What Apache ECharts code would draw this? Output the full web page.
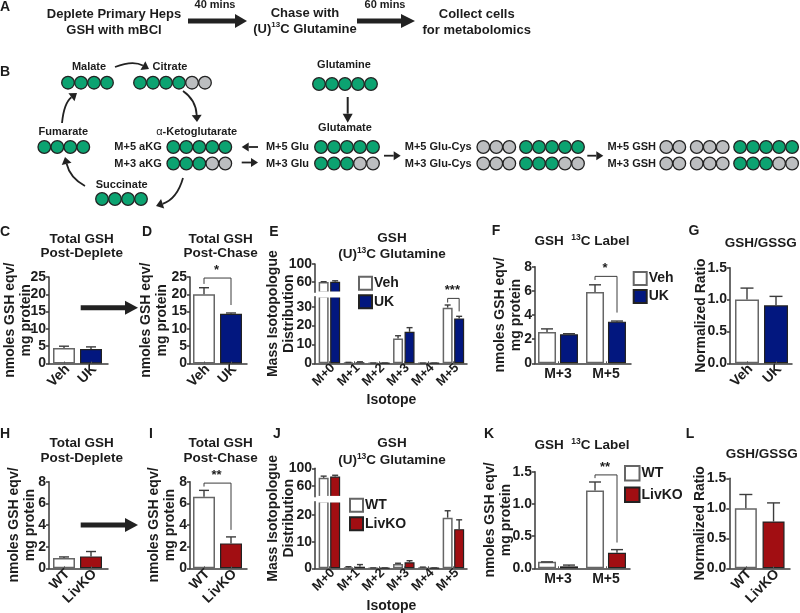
<!DOCTYPE html>
<html><head><meta charset="utf-8">
<script src="https://cdn.jsdelivr.net/npm/echarts@6/dist/echarts.min.js"></script>
<style>html,body{margin:0;padding:0;background:#fff}#c{width:800px;height:613px}</style>
</head><body><div id="c"></div>
<script>
// ---------- data ----------
const vehUk = ['Veh','UK'];
const wtKo = ['WT','LivKO'];
const isotopes = ['M+0','M+1','M+2','M+3','M+4','M+5'];
const labelled = ['M+3','M+5'];

const cValues = [4.5,4.2];    const cTops = [5.0,4.8];
const dValues = [20,14.4];    const dTops = [21.9,14.6];
const eVeh = [59.5,0.4,0.1,13.2,0.1,29.5]; const eVehTops = [60,0.5,0.15,14.6,0.1,30.9];
const eUk  = [60,0.6,0.1,16.7,0.1,23.8];   const eUkTops  = [62,0.8,0.15,18.9,0.1,24.9];
const fVeh = [2.6,5.9];  const fVehTops = [2.85,6.5];
const fUk  = [2.4,3.45]; const fUkTops  = [2.45,3.5];
const gValues = [1.0,0.91];   const gTops = [1.18,1.05];
const hValues = [0.95,1.1];   const hTops = [1.05,1.55];
const iValues = [6.6,2.3];    const iTops = [7.2,2.9];
const jWt = [78,0.3,0.1,1.6,0.3,19];   const jWtTops = [82,0.6,0.15,1.9,0.45,21.6];
const jKo = [81,0.6,0.1,2.25,0.1,14.7]; const jKoTops = [84,1.4,0.15,2.85,0.15,18.2];
const kWt = [0.1,1.21];  const kWtTops = [0.1,1.34];
const kKo = [0.03,0.24]; const kKoTops = [0.05,0.29];
const lValues = [1.0,0.78];   const lTops = [1.23,1.09];

const gshAxis = 'nmoles GSH eqv/\nmg protein';
const misAxis = 'Mass Isotopologue\nDistribution';
const ratioAxis = 'Normalized Ratio';

// carbon patterns: G labelled, g unlabelled, space = gap
const malatePattern='GGGG', citratePattern='GGGGgg', fumaratePattern='GGGG', succinatePattern='GGGG';
const m5Akg='GGGGG', m3Akg='GGGgg', glutaminePattern='GGGGG', m5Glu='GGGGG', m3Glu='GGGgg';
const m5GluCys='ggg GGGGG', m3GluCys='ggg GGGgg', m5Gsh='gg ggg GGGGG', m3Gsh='gg ggg GGGgg';

// ---------- styling ----------
const FONT='"Liberation Sans",Arial,sans-serif', INK='#1c1c1c', AX='#3a3a3a';
const GREEN='#0ca371', GREY='#bcbec0', BLUE='#02177f', RED='#a10e12';
const white={color:'#fff',borderColor:'#666',borderWidth:1.5};
const blue={color:BLUE,borderColor:'#222',borderWidth:1.2};
const red={color:RED,borderColor:'#222',borderWidth:1.2};

const grid=[],xAxis=[],yAxis=[],series=[],graphic=[],legend=[];

function errSeries(gi,vals,tops,off,cap,keep){
  const rows=vals.map((v,i)=>[i,v,tops[i]]).filter(r=>!keep||keep(r[1]));
  series.push({type:'custom',xAxisIndex:gi,yAxisIndex:gi,z:3,silent:true,
    data:rows,
    encode:{x:0,y:[1,2]},
    renderItem(p,api){
      const a=api.coord([api.value(0),api.value(1)]),b=api.coord([api.value(0),api.value(2)]);
      const x=a[0]+off,s={stroke:'#3c3c3c',lineWidth:1.4,fill:null};
      return {type:'group',children:[
        {type:'line',shape:{x1:x,y1:a[1],x2:x,y2:b[1]},style:s},
        {type:'line',shape:{x1:x-cap/2,y1:b[1],x2:x+cap/2,y2:b[1]},style:s}]};
    }});
}
function bracket(gi,b){
  series.push({type:'custom',xAxisIndex:gi,yAxisIndex:gi,z:4,silent:true,clip:false,
    data:[[b.c1,b.y1,b.c2,b.top,b.y2]],encode:{x:[0,2],y:[1,3,4]},
    renderItem(p,api){
      const A=api.coord([api.value(0),api.value(1)]),T=api.coord([api.value(0),api.value(3)]),
            B=api.coord([api.value(2),api.value(4)]);
      const x1=A[0]+b.o1,x2=B[0]+b.o2;
      return {type:'group',children:[
        {type:'polyline',shape:{points:[[x1,A[1]],[x1,T[1]],[x2,T[1]],[x2,B[1]]]},style:{stroke:'#3c3c3c',lineWidth:1,fill:null}},
        {type:'text',style:{x:(x1+x2)/2-1,y:T[1]-1,text:b.stars,fill:INK,font:'bold 13px '+FONT,textAlign:'center',textVerticalAlign:'bottom'}}]};
    }});
}
function frame(p,top,bottom,opts){
  // axis frame: y axis with ticks/labels and the full-length baseline
  const gi=grid.length;
  grid.push({left:p.axisX,top,width:p.right-p.axisX,height:bottom-top});
  xAxis.push({gridIndex:gi,type:'value',min:0,max:1,show:opts.baseline!==false,
    axisLine:{show:true,onZero:false,lineStyle:{color:AX,width:1.5}},axisTick:{show:false},axisLabel:{show:false},splitLine:{show:false}});
  const y={gridIndex:gi,type:'value',min:opts.min,max:opts.max,splitLine:{show:false},
    axisLine:{show:opts.noLine!==true,lineStyle:{color:AX,width:1.5}},
    axisTick:{show:opts.noLine!==true,length:3,lineStyle:{color:AX,width:1.5}},
    axisLabel:{show:opts.noLine!==true,color:INK,fontFamily:FONT,fontWeight:'bold',fontSize:14,margin:3,formatter:opts.fmt||undefined}};
  if(opts.interval) y.interval=opts.interval;
  if(opts.custom){y.axisTick.customValues=opts.custom;y.axisLabel.customValues=opts.custom;}
  if(opts.name){y.name=opts.name;y.nameLocation='middle';y.nameRotate=90;y.nameGap=opts.nameGap;y.nameMoveOverlap=false;
    y.nameTextStyle={color:INK,fontFamily:FONT,fontWeight:'bold',fontSize:14,lineHeight:16};}
  yAxis.push(y);
  return gi;
}
function barGrid(p,top,bottom,min,max,cats,showX){
  const gi=grid.length;
  grid.push({left:p.barsL,top,width:p.band*cats.length,height:bottom-top});
  xAxis.push({gridIndex:gi,type:'category',data:cats,show:showX,z:5,
    axisLine:{show:false},
    axisTick:{show:true,inside:true,alignWithLabel:true,length:2,lineStyle:{color:'#555'}},
    axisLabel:{interval:0,rotate:p.rot,margin:p.labelMargin,padding:p.rot?[0,-5,0,0]:0,color:INK,fontFamily:FONT,fontWeight:'bold',fontSize:p.labelSize}});
  yAxis.push({gridIndex:gi,type:'value',min,max,show:false,splitLine:{show:false}});
  return gi;
}
function singlePanel(p){
  frame(p,p.top,p.bottom,{min:0,max:p.max,interval:p.interval,fmt:p.fmt,name:p.name,nameGap:p.nameGap});
  const gi=barGrid(p,p.top,p.bottom,0,p.max,p.cats,true);
  series.push({type:'bar',xAxisIndex:gi,yAxisIndex:gi,barWidth:p.barW,z:2,silent:true,
    data:p.values.map((v,i)=>({value:v,itemStyle:i?p.fill:white}))});
  errSeries(gi,p.values,p.tops,0,p.cap);
  if(p.bracket) bracket(gi,p.bracket);
}
function groupPanel(p){
  frame(p,p.top,p.bottom,{min:0,max:p.max,interval:p.interval,fmt:p.fmt,name:p.name,nameGap:p.nameGap});
  const gi=barGrid(p,p.top,p.bottom,0,p.max,p.cats,true);
  const off=p.barW*(1+p.gap)/2;
  [[p.a,p.aTops,white,p.names[0],-off],[p.b,p.bTops,p.fill,p.names[1],off]].forEach(([v,t,st,n,o])=>{
    series.push({type:'bar',name:n,xAxisIndex:gi,yAxisIndex:gi,barWidth:p.barW,barGap:(p.gap*100)+'%',z:2,silent:true,data:v,itemStyle:st});
    errSeries(gi,v,t,o,p.cap);
  });
  bracket(gi,p.bracket);
}
function brokenPanel(p){
  // name-only frame spanning both segments
  frame({axisX:p.axisX,right:p.axisX+1},p.uTop,p.bottom,{min:0,max:1,noLine:true,baseline:false,name:p.name,nameGap:p.nameGap});
  // lower segment
  frame(p,p.lTop,p.bottom,{min:0,max:p.lMax,custom:p.lTicks});
  const lo=barGrid(p,p.lTop,p.bottom,0,p.lMax,p.cats,true);
  // upper segment
  frame({axisX:p.axisX,right:p.axisX+1},p.uTop,p.uBottom,{min:p.uMin,max:100,custom:[60,100],baseline:false});
  const up=barGrid(p,p.uTop,p.uBottom,p.uMin,100,p.cats,false);
  const off=p.barW*(1+p.gap)/2;
  [[p.a,p.aTops,white,p.names[0],-off],[p.b,p.bTops,p.fill,p.names[1],off]].forEach(([v,t,st,n,o])=>{
    series.push({type:'bar',name:n,xAxisIndex:lo,yAxisIndex:lo,barWidth:p.barW,barGap:(p.gap*100)+'%',z:2,silent:true,data:v,itemStyle:st,clip:true});
    errSeries(lo,v,t,o,p.cap,x=>x<p.lMax);
    series.push({type:'bar',name:n,xAxisIndex:up,yAxisIndex:up,barWidth:p.barW,barGap:(p.gap*100)+'%',z:2,silent:true,data:v.map(x=>x>=p.uMin?x:null),itemStyle:st,clip:true});
    errSeries(up,v,t,o,p.cap,x=>x>=p.uMin);
  });
  if(p.bracket) bracket(lo,p.bracket);
  // white band of the axis break
  graphic.push({type:'rect',silent:true,z:7,shape:{x:p.axisX+3,y:p.uBottom-0.8,width:p.breakW,height:p.lTop-p.uBottom+1.6},style:{fill:'#fff'}});
}
function addLegend(left,top,names,size,gap){
  legend.push({left,top,orient:'vertical',icon:'rect',itemWidth:size,itemHeight:size,itemGap:gap,data:names,selectedMode:false,padding:0,
    textStyle:{color:INK,fontFamily:FONT,fontWeight:'bold',fontSize:14,padding:[0,0,0,-3]}});
}

// ---------- panels ----------
const leftCol={axisX:49,right:108,barsL:50.5,band:27,barW:22,cap:10,rot:45,labelMargin:7,labelSize:14,name:gshAxis};
const midCol={axisX:190,right:247,barsL:190.5,band:27,barW:22,cap:10,rot:45,labelMargin:7,labelSize:14,name:gshAxis};
singlePanel({...leftCol,top:277,bottom:363.5,max:25,interval:5,cats:vehUk,values:cValues,tops:cTops,fill:blue,nameGap:14.5});
singlePanel({...midCol,top:277,bottom:363.5,max:25,interval:5,cats:vehUk,values:dValues,tops:dTops,fill:blue,nameGap:20,
  bracket:{c1:0,o1:0,c2:1,o2:0,y1:23,top:24.7,y2:16.9,stars:'*'}});
brokenPanel({axisX:315,right:467,barsL:317,band:24.8,barW:10,gap:0.15,cap:6,rot:45,labelMargin:6,labelSize:13,breakW:25,
  uTop:264,uBottom:292.3,uMin:36,lTop:296.7,bottom:363.3,lMax:35.3,lTicks:[0,10,20,30],cats:isotopes,
  a:eVeh,aTops:eVehTops,b:eUk,bTops:eUkTops,names:['Veh','UK'],fill:blue,name:misAxis,nameGap:18,
  bracket:{c1:5,o1:-5.75,c2:5,o2:5.75,y1:32.2,top:34.4,y2:27.5,stars:'***'}});
groupPanel({axisX:535,right:631,barsL:534,band:48,barW:18,gap:0.22,cap:12,rot:0,labelMargin:4,labelSize:14,
  top:266.7,bottom:363.3,max:8,interval:2,cats:labelled,a:fVeh,aTops:fVehTops,b:fUk,bTops:fUkTops,names:['Veh','UK'],fill:blue,name:gshAxis,nameGap:11,
  bracket:{c1:1,o1:-11,c2:1,o2:11,y1:6.9,top:7.2,y2:4.2,stars:'*'}});
singlePanel({axisX:730,right:792,barsL:732.5,band:29,barW:24,cap:13,rot:45,labelMargin:7,labelSize:14,
  top:267.7,bottom:363.3,max:1.5,interval:0.5,fmt:v=>v.toFixed(1),cats:vehUk,values:gValues,tops:gTops,fill:blue,name:ratioAxis,nameGap:21});
singlePanel({...leftCol,top:481.7,bottom:568.3,max:8,interval:2,cats:wtKo,values:hValues,tops:hTops,fill:red,nameGap:11});
singlePanel({...midCol,top:481.7,bottom:568.3,max:8,interval:2,cats:wtKo,values:iValues,tops:iTops,fill:red,nameGap:11.5,
  bracket:{c1:0,o1:0,c2:1,o2:0,y1:7.55,top:7.87,y2:3.55,stars:'**'}});
brokenPanel({axisX:315,right:467,barsL:317,band:24.8,barW:10,gap:0.15,cap:6,rot:45,labelMargin:6,labelSize:13,breakW:25,
  uTop:468.3,uBottom:496.7,uMin:34.7,lTop:501.7,bottom:568.3,lMax:25,lTicks:[0,10,20],cats:isotopes,
  a:jWt,aTops:jWtTops,b:jKo,bTops:jKoTops,names:['WT','LivKO'],fill:red,name:misAxis,nameGap:18});
groupPanel({axisX:535,right:630,barsL:534,band:48,barW:18,gap:0.22,cap:12,rot:0,labelMargin:4,labelSize:14,
  top:471.7,bottom:568.3,max:1.5,interval:0.5,fmt:v=>v.toFixed(1),cats:labelled,a:kWt,aTops:kWtTops,b:kKo,bTops:kKoTops,names:['WT','LivKO'],fill:red,name:gshAxis,nameGap:21,
  bracket:{c1:1,o1:-11,c2:1,o2:11,y1:1.4,top:1.45,y2:0.4,stars:'**'}});
singlePanel({axisX:729.3,right:790,barsL:732,band:27.7,barW:22,cap:13,rot:45,labelMargin:7,labelSize:14,
  top:478.3,bottom:568.3,max:1.5,interval:0.5,fmt:v=>v.toFixed(1),cats:wtKo,values:lValues,tops:lTops,fill:red,name:ratioAxis,nameGap:21});

addLegend(358,275.7,['Veh','UK'],13,3.5);
addLegend(632.7,271,['Veh','UK'],13,3);
addLegend(349,497.7,['WT','LivKO'],13,3.5);
addLegend(624,465,['WT','LivKO'],14.5,5);

// ---------- text and diagram ----------
function txt(x,y,s,size,align,extra){
  graphic.push({type:'text',silent:true,z:10,style:Object.assign({x,y,text:s,fill:INK,font:'bold '+(size||13)+'px '+FONT,textAlign:align||'center',textVerticalAlign:'middle'},extra||{})});
}
function sup(x,y,pre,post,size){
  graphic.push({type:'text',silent:true,z:10,style:{x,y,text:'{a|'+pre+'}{s|13}{a|'+post+'}',textAlign:'center',textVerticalAlign:'middle',
    rich:{a:{font:'bold '+size+'px '+FONT,fill:INK,verticalAlign:'bottom',lineHeight:size+2},s:{font:'bold '+(size-5)+'px '+FONT,fill:INK,verticalAlign:'top',lineHeight:size+2}}}});
}
function arrow(x1,y1,x2,y2,lw,hl,hw){
  const d=Math.hypot(x2-x1,y2-y1),ux=(x2-x1)/d,uy=(y2-y1)/d,bx=x2-ux*hl,by=y2-uy*hl;
  graphic.push({type:'line',silent:true,z:9,shape:{x1,y1,x2:bx,y2:by},style:{stroke:'#222',lineWidth:lw}});
  graphic.push({type:'polygon',silent:true,z:9,shape:{points:[[x2,y2],[bx-uy*hw,by+ux*hw],[bx+uy*hw,by-ux*hw]]},style:{fill:'#222'}});
}
function curve(x1,y1,cx,cy,x2,y2){
  const hl=7,hw=5,d=Math.hypot(x2-cx,y2-cy),ux=(x2-cx)/d,uy=(y2-cy)/d,bx=x2-ux*hl,by=y2-uy*hl;
  graphic.push({type:'bezierCurve',silent:true,z:9,shape:{x1,y1,x2:bx,y2:by,cpx1:cx,cpy1:cy},style:{stroke:'#222',lineWidth:1.8,fill:null}});
  graphic.push({type:'polygon',silent:true,z:9,shape:{points:[[x2,y2],[bx-uy*hw,by+ux*hw],[bx+uy*hw,by-ux*hw]]},style:{fill:'#222'}});
}
function beads(x0,y,pattern,gapPx){
  let x=x0;
  for(const ch of pattern){
    if(ch===' '){x+=gapPx;continue;}
    graphic.push({type:'circle',silent:true,z:8,shape:{cx:x,cy:y,r:6.3},style:{fill:ch==='G'?GREEN:GREY,stroke:'#222',lineWidth:1.3}});
    x+=13;
  }
}
[['A',5,7],['B',5,72],['C',5,232],['D',147,232],['E',274,232],['F',496,231],['G',694,231],
 ['H',5,434],['I',151,434],['J',277,434],['K',489,434],['L',690,434]].forEach(([s,x,y])=>txt(x,y,s,14));

txt(114,14,'Deplete Primary Heps',13); txt(114,30,'GSH with mBCl',13);
txt(215,5,'40 mins',11); arrow(188,21,247,21,5,12,7);
txt(305,13,'Chase with',13); sup(305,28,'(U)','C Glutamine',13);
txt(385,5,'60 mins',11); arrow(357,21,415,21,5,14,7);
txt(476.7,14,'Collect cells',13); txt(476.7,30,'for metabolomics',13);

txt(89,67,'Malate',11); txt(170,67,'Citrate',11); txt(344,65,'Glutamine',11); txt(345,128,'Glutamate',11);
txt(63.3,132,'Fumarate',11); txt(121.7,184.5,'Succinate',11);
graphic.push({type:'text',silent:true,z:10,style:{x:196.7,y:132,textAlign:'center',textVerticalAlign:'middle',text:'{g|\u03b1}{a|-Ketoglutarate}',
  rich:{g:{font:'11px '+FONT,fill:INK},a:{font:'bold 11px '+FONT,fill:INK}}}});
txt(161.7,147,'M+5 aKG',11,'right'); txt(161.7,164,'M+3 aKG',11,'right');
txt(309,147,'M+5 Glu',11,'right'); txt(309,164,'M+3 Glu',11,'right');
txt(471.7,147,'M+5 Glu-Cys',11,'right'); txt(471.7,164,'M+3 Glu-Cys',11,'right');
txt(656,147,'M+5 GSH',11,'right'); txt(656,164,'M+3 GSH',11,'right');

beads(68,82.7,malatePattern); beads(140,82.7,citratePattern);
beads(319,84,glutaminePattern); beads(44.3,147,fumaratePattern); beads(102,199,succinatePattern);
beads(173.3,147,m5Akg); beads(173.3,163.5,m3Akg);
beads(321,147,m5Glu); beads(321,163.5,m3Glu);
beads(483.3,147,m5GluCys,3.7); beads(483.3,163.5,m3GluCys,3.7);
beads(666.3,147,m5Gsh,4.4); beads(666.3,163.5,m3Gsh,4.4);

curve(115,67,133,60,149,69); curve(183,91,196,100,197,122);
curve(62,123,64,103,77,93); curve(183,178,177,199,156,206); curve(85,186,70,178,65,157);
arrow(347.7,97,347.7,122.7,2,9,5);
arrow(258,147,241.7,147,1.8,7,4.5); arrow(241.7,162.5,258,162.5,1.8,7,4.5);
arrow(384,155.7,400.7,155.7,1.8,7,4.5); arrow(587.3,155.7,603.3,155.7,1.8,7,4.5);
arrow(80.7,307.7,138,307.7,5,13,7); arrow(80.7,525,138,525,5,13,7);

const TS=13.5;
txt(81.7,239,'Total GSH',TS); txt(81.7,253.7,'Post-Deplete',TS);
txt(220.6,239,'Total GSH',TS); txt(220.6,253.7,'Post-Chase',TS);
txt(392,238,'GSH',TS); sup(392,254,'(U)','C Glutamine',TS);
sup(582,241,'GSH  ','C Label',TS);
txt(760.7,243,'GSH/GSSG',TS);
txt(391.5,400,'Isotope',14);
txt(81.7,443,'Total GSH',TS); txt(81.7,458,'Post-Deplete',TS);
txt(220.6,443,'Total GSH',TS); txt(220.6,458,'Post-Chase',TS);
txt(392,443,'GSH',TS); sup(392,460,'(U)','C Glutamine',TS);
sup(582,445,'GSH  ','C Label',TS);
txt(761.7,454.3,'GSH/GSSG',TS);
txt(391.5,606.5,'Isotope',14);

echarts.init(document.getElementById('c'),null,{renderer:'canvas'}).setOption({
  animation:false,backgroundColor:'#fff',grid,xAxis,yAxis,series,legend,graphic:{elements:graphic},tooltip:{show:false}
});
</script></body></html>
